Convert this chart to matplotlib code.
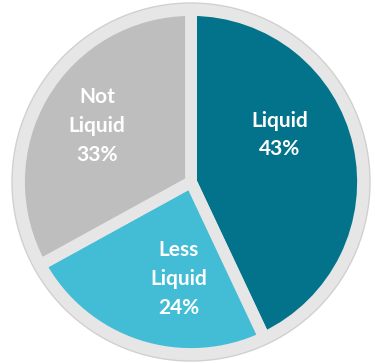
import matplotlib
matplotlib.use('Agg')
import matplotlib.pyplot as plt
from matplotlib.patches import Circle

labels = ['Liquid', 'Less\nLiquid', 'Not\nLiquid']
shares = [43, 24, 33]
colors = ['#03738b', '#43bdd5', '#bebebe']
ring = '#e6e6e6'

W, H = 375, 363
fig = plt.figure(figsize=(W / 100, H / 100), dpi=100)
ax = fig.add_axes([0, 0, 1, 1])

cx, cy = 191, H - 182

# light grey backing disc with a soft outline
ax.add_patch(Circle((cx, cy), 179, facecolor=ring, edgecolor='#d0d0d0', lw=1.0, zorder=0))

wedges, _ = ax.pie(shares, colors=colors, startangle=90, counterclock=False,
                   center=(cx, cy), radius=172, explode=[0.035, 0, 0],
                   wedgeprops=dict(edgecolor=ring, linewidth=8.5, joinstyle='miter'),
                   frame=True)
ax.set_xlim(0, W)
ax.set_ylim(0, H)
ax.set_aspect('equal')
ax.axis('off')

# label anchors, offsets from the pie centre
label_xy = [(89, 47), (-12, -97), (-94, 56)]
for lab, pct, (dx, dy) in zip(labels, shares, label_xy):
    ax.text(cx + dx, cy + dy, f'{lab}\n{pct}%', ha='center', va='center',
            color='white', fontsize=15, fontweight='bold', family='Lato',
            linespacing=1.55, zorder=5)

fig.savefig('out.png', dpi=100)
